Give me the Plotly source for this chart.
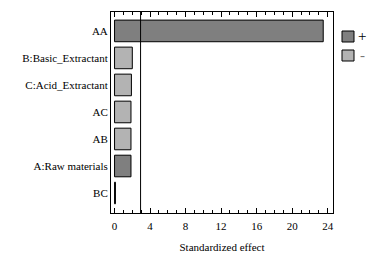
import plotly.graph_objects as go

categories = ["BC", "A:Raw materials", "AB", "AC", "C:Acid_Extractant", "B:Basic_Extractant", "AA"]
effects = [0.1, 1.85, 1.85, 1.85, 1.9, 2.0, 23.5]
signs = ["-", "+", "-", "-", "-", "-", "+"]
critical_value = 2.93
x_ticks = [0, 4, 8, 12, 16, 20, 24]

DARK = "#7f7f7f"
LIGHT = "#b3b3b3"
FONT = "Liberation Serif"

fig = go.Figure()
for sign, color in [("+", DARK), ("-", LIGHT)]:
    xs = [v if s == sign else None for v, s in zip(effects, signs)]
    fig.add_trace(go.Bar(
        x=xs, y=categories, orientation="h", width=0.8,
        marker=dict(color=color, line=dict(color="black", width=1)),
        name=sign, showlegend=False, hoverinfo="skip",
    ))

fig.add_vline(x=critical_value, line=dict(color="black", width=1))

# manual legend
fig.add_shape(type="rect", xref="paper", yref="paper",
              x0=(342-111)/222, x1=(354-111)/222, y0=(213-42)/201, y1=(213-31)/201,
              fillcolor=DARK, line=dict(color="black", width=1))
fig.add_shape(type="rect", xref="paper", yref="paper",
              x0=(342-111)/222, x1=(354-111)/222, y0=(213-61)/201, y1=(213-50)/201,
              fillcolor=LIGHT, line=dict(color="black", width=1))
fig.add_annotation(text="+", xref="paper", yref="paper", x=(356-111)/222, y=(213-36)/201,
                   xanchor="left", yanchor="middle", showarrow=False,
                   font=dict(family=FONT, size=15, color="black"))
fig.add_annotation(text="-", xref="paper", yref="paper", x=(358-111)/222, y=(213-55)/201,
                   xanchor="left", yanchor="middle", showarrow=False,
                   font=dict(family=FONT, size=15, color="#777777"))

fig.update_layout(
    width=377, height=257,
    margin=dict(l=111, r=44, t=12, b=44, autoexpand=False),
    paper_bgcolor="white", plot_bgcolor="white",
    barmode="overlay",
    font=dict(family=FONT, size=11, color="black"),
    showlegend=False,
    xaxis=dict(
        range=[-0.4, 24.6], tickvals=x_ticks, ticks="inside", ticklen=5,
        tickcolor="black", showgrid=False, zeroline=False,
        showline=True, linecolor="black", linewidth=1, mirror="ticks",
        minor=dict(dtick=1, ticks="inside", ticklen=3, tickcolor="black", showgrid=False),
        title=dict(text="Standardized effect", font=dict(size=11), standoff=12),
        tickfont=dict(size=11), ticklabelstandoff=3, automargin=False,
    ),
    yaxis=dict(
        range=[-0.74, 6.7], showgrid=False, zeroline=False,
        showline=True, linecolor="black", linewidth=1, mirror=True,
        ticks="", tickfont=dict(size=11), automargin=False,
    ),
)

fig.write_html("out.html", config={"displayModeBar": False},
               post_script="document.body.style.margin='0';document.body.style.overflow='hidden';")
